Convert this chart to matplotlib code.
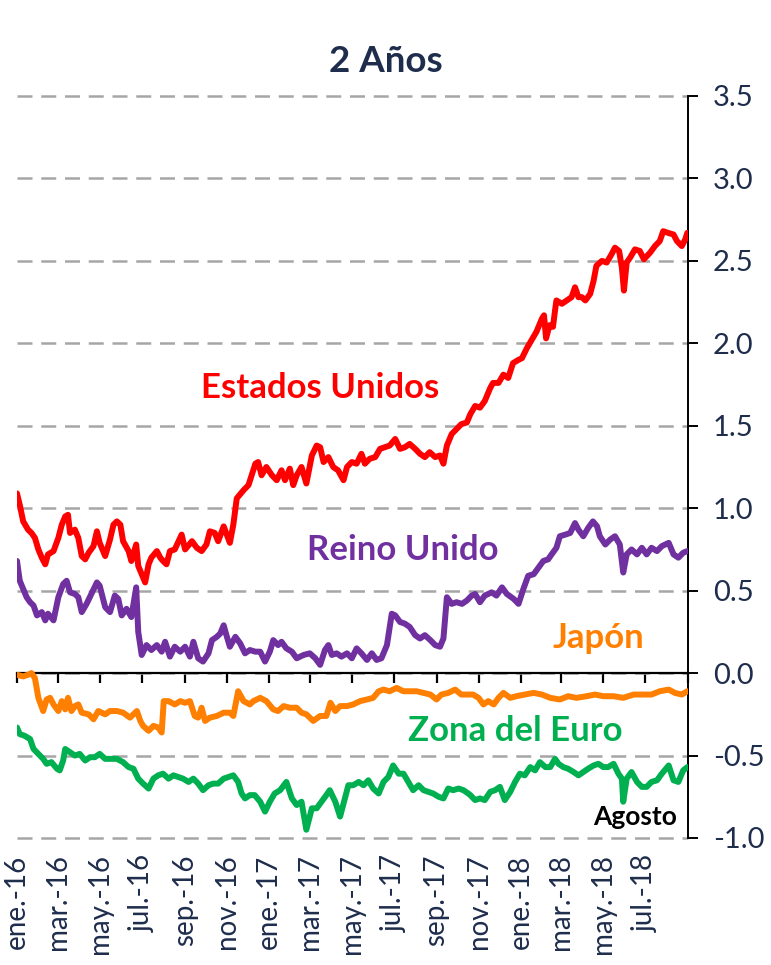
import numpy as np
import pandas as pd
import matplotlib
matplotlib.use('Agg')
import matplotlib.pyplot as plt

# dias contados desde el 1 de enero de 2016 y rendimiento a 2 años (%)
dias_eeuu = [0, 4, 9, 16, 21, 26, 31, 36, 41, 45, 53, 60, 65, 70, 74, 77, 84, 89, 94, 99,
             104, 111, 116, 120, 128, 135, 140, 145, 150, 154, 162, 166, 173, 176, 181, 186, 191, 195, 203, 208,
             212, 217, 222, 229, 239, 244, 254, 261, 268, 275, 280, 287, 292, 300, 309, 314, 319, 329, 336,
             346, 350, 355, 362, 370, 377, 384, 389, 396, 401, 406, 413, 420, 428, 435, 440, 445, 452, 459,
             466, 474, 479, 486, 493, 500, 505, 512, 520, 527, 534, 541, 549, 556, 563, 570, 578, 585, 592,
             599, 607, 614, 619, 624, 631, 638, 645, 653, 658, 665, 672, 679, 687, 691, 699, 706, 713, 720,
             728, 733, 740, 747, 754, 762, 765, 768, 773, 778, 781, 783, 791, 798, 805, 810, 815, 820, 825,
             832, 837, 841, 849, 856, 863, 868, 874, 878, 881, 885, 890, 897, 904, 910, 919, 926, 933, 938,
             945, 953, 958, 965, 970, 973]
eeuu = [1.09, 1.02, 0.92, 0.87, 0.85, 0.82, 0.75, 0.70, 0.66, 0.72, 0.74, 0.82, 0.90, 0.95, 0.96, 0.85, 0.87, 0.82, 0.71, 0.69,
        0.73, 0.77, 0.86, 0.79, 0.71, 0.81, 0.90, 0.92, 0.90, 0.80, 0.74, 0.68, 0.78, 0.65, 0.60, 0.55, 0.66, 0.70, 0.74, 0.70,
        0.68, 0.66, 0.74, 0.75, 0.84, 0.75, 0.80, 0.76, 0.74, 0.78, 0.86, 0.85, 0.80, 0.89, 0.79, 0.90, 1.06, 1.11, 1.14,
        1.27, 1.28, 1.20, 1.25, 1.20, 1.17, 1.23, 1.17, 1.24, 1.14, 1.20, 1.25, 1.15, 1.32, 1.38, 1.37, 1.28, 1.31, 1.25,
        1.23, 1.17, 1.25, 1.28, 1.27, 1.33, 1.27, 1.30, 1.31, 1.36, 1.37, 1.38, 1.42, 1.36, 1.37, 1.39, 1.36, 1.33, 1.31,
        1.34, 1.31, 1.32, 1.27, 1.38, 1.45, 1.48, 1.51, 1.52, 1.57, 1.62, 1.61, 1.65, 1.73, 1.76, 1.76, 1.81, 1.79, 1.88,
        1.90, 1.91, 1.97, 2.02, 2.07, 2.15, 2.17, 2.03, 2.11, 2.10, 2.20, 2.26, 2.24, 2.26, 2.28, 2.34, 2.28, 2.28, 2.26,
        2.30, 2.38, 2.47, 2.50, 2.49, 2.54, 2.58, 2.56, 2.46, 2.32, 2.49, 2.52, 2.57, 2.56, 2.51, 2.55, 2.59, 2.62, 2.68,
        2.67, 2.66, 2.62, 2.59, 2.63, 2.67]

dias_ru = [0, 4, 9, 14, 19, 24, 29, 36, 41, 45, 53, 60, 67, 72, 77, 84, 89, 94, 101, 108,
           116, 120, 128, 135, 142, 147, 152, 159, 166, 173, 176, 181, 188, 195, 203, 210, 215, 222, 229, 237,
           244, 251, 256, 263, 270, 278, 283, 290, 295, 300, 304, 309, 317, 324, 331, 338,
           346, 353, 360, 367, 372, 379, 384, 391, 399, 406, 416, 425, 433, 440, 447, 452, 457, 464, 471,
           479, 486, 493, 500, 508, 515, 522, 529, 537, 544, 549, 556, 563, 570, 578, 585, 592, 600, 607,
           614, 619, 624, 631, 638, 646, 653, 660, 665, 672, 679, 689, 696, 704, 711, 721, 728, 735, 742,
           750, 757, 764, 771, 776, 783, 788, 796, 803, 810, 815, 822, 829, 836, 842, 846, 854, 861, 868,
           875, 880, 885, 892, 900, 907, 914, 921, 929, 936, 946, 953, 960, 967, 973]
reino_unido = [0.68, 0.56, 0.51, 0.46, 0.43, 0.41, 0.35, 0.37, 0.32, 0.36, 0.32, 0.46, 0.54, 0.56, 0.49, 0.48, 0.46, 0.37, 0.42, 0.48,
               0.55, 0.53, 0.40, 0.37, 0.47, 0.45, 0.35, 0.39, 0.34, 0.52, 0.25, 0.11, 0.17, 0.14, 0.17, 0.13, 0.19, 0.10, 0.16, 0.13,
               0.16, 0.10, 0.19, 0.09, 0.07, 0.12, 0.20, 0.22, 0.24, 0.29, 0.23, 0.16, 0.22, 0.18, 0.12, 0.14,
               0.13, 0.13, 0.07, 0.13, 0.20, 0.17, 0.19, 0.15, 0.13, 0.09, 0.11, 0.12, 0.09, 0.05, 0.14, 0.17, 0.11, 0.12, 0.10,
               0.12, 0.09, 0.15, 0.12, 0.08, 0.12, 0.08, 0.09, 0.17, 0.36, 0.35, 0.31, 0.30, 0.28, 0.23, 0.21, 0.23, 0.20, 0.17,
               0.16, 0.21, 0.46, 0.42, 0.43, 0.42, 0.44, 0.47, 0.48, 0.43, 0.47, 0.49, 0.47, 0.52, 0.48, 0.45, 0.42, 0.51, 0.59,
               0.60, 0.64, 0.68, 0.69, 0.72, 0.76, 0.83, 0.84, 0.85, 0.91, 0.87, 0.83, 0.88, 0.92, 0.89, 0.83, 0.78, 0.81, 0.83,
               0.78, 0.61, 0.72, 0.75, 0.72, 0.76, 0.72, 0.76, 0.74, 0.77, 0.79, 0.72, 0.70, 0.73, 0.74]

dias_japon = [0, 9, 16, 21, 26, 31, 38, 43, 48, 53, 60, 65, 70, 74, 79, 84, 89, 94, 104, 111,
              118, 128, 135, 145, 154, 164, 174, 179, 183, 191, 198, 205, 210, 213, 220, 229, 237, 244, 251, 258,
              263, 268, 273, 280, 290, 300, 309, 314, 321, 329, 338,
              343, 353, 362, 372, 379, 387, 396, 406, 413, 420, 430, 440, 449, 455, 462, 469, 479, 488, 498,
              508, 517, 525, 532, 541, 551, 561, 570, 580, 590, 600, 609, 616, 626, 636, 645, 655,
              662, 670, 677, 684, 692, 699, 706, 716, 725, 737, 750, 762, 774, 788, 800, 812, 827, 839, 851,
              866, 880, 895, 909, 921, 933, 946, 955, 965, 973]
japon = [-0.01, -0.02, -0.01, 0.00, -0.03, -0.15, -0.23, -0.16, -0.15, -0.19, -0.23, -0.17, -0.22, -0.15, -0.23, -0.20, -0.19, -0.24, -0.25, -0.28,
         -0.23, -0.25, -0.23, -0.23, -0.24, -0.27, -0.23, -0.29, -0.32, -0.35, -0.32, -0.33, -0.36, -0.17, -0.17, -0.19, -0.17, -0.18, -0.17, -0.26,
         -0.27, -0.21, -0.29, -0.27, -0.26, -0.24, -0.24, -0.26, -0.11, -0.17, -0.19,
         -0.17, -0.15, -0.17, -0.22, -0.23, -0.20, -0.21, -0.21, -0.24, -0.25, -0.29, -0.26, -0.26, -0.18, -0.23, -0.20, -0.20, -0.19, -0.17,
         -0.16, -0.15, -0.11, -0.10, -0.11, -0.09, -0.11, -0.11, -0.11, -0.12, -0.13, -0.16, -0.13, -0.12, -0.10, -0.13, -0.13,
         -0.13, -0.15, -0.19, -0.17, -0.19, -0.15, -0.12, -0.15, -0.14, -0.13, -0.12, -0.13, -0.15, -0.16, -0.14, -0.15, -0.14, -0.13, -0.14,
         -0.14, -0.15, -0.13, -0.13, -0.13, -0.11, -0.10, -0.12, -0.13, -0.11]

dias_euro = [0, 4, 11, 19, 24, 31, 38, 43, 50, 58, 62, 67, 70, 77, 84, 91, 99, 106, 113, 120,
             128, 135, 145, 154, 162, 169, 176, 183, 191, 198, 205, 212, 220, 227, 234, 241, 249, 256, 263, 270,
             278, 285, 292, 300, 307, 314, 321, 326, 331, 338,
             345, 353, 360, 367, 374, 382, 391, 399, 406, 413, 420, 428, 435, 442, 449, 454, 462, 469, 476,
             481, 488, 496, 503, 510, 517, 525, 532, 539, 546, 554, 561, 568, 575, 583, 590, 597, 604, 612,
             619, 626, 633, 641, 648, 655, 658, 665, 672, 679, 687, 694, 701, 708, 716, 723, 730, 737, 745,
             752, 759, 767, 774, 781, 786, 793, 800, 808, 815, 822, 829, 837, 844, 851, 858, 866, 873, 878,
             880, 885, 892, 900, 907, 914, 921, 929, 936, 946, 953, 960, 967, 973]
zona_euro = [-0.33, -0.37, -0.38, -0.40, -0.46, -0.49, -0.52, -0.55, -0.54, -0.58, -0.59, -0.53, -0.46, -0.48, -0.50, -0.49, -0.53, -0.51, -0.51, -0.49,
             -0.52, -0.52, -0.52, -0.54, -0.57, -0.58, -0.64, -0.67, -0.70, -0.64, -0.62, -0.61, -0.64, -0.62, -0.63, -0.64, -0.66, -0.64, -0.67, -0.71,
             -0.68, -0.67, -0.67, -0.64, -0.63, -0.62, -0.66, -0.73, -0.76, -0.74,
             -0.74, -0.78, -0.84, -0.78, -0.73, -0.71, -0.66, -0.76, -0.80, -0.78, -0.95, -0.82, -0.82, -0.78, -0.74, -0.71, -0.78, -0.87, -0.76,
             -0.68, -0.68, -0.66, -0.68, -0.65, -0.70, -0.73, -0.66, -0.63, -0.56, -0.61, -0.61, -0.66, -0.71, -0.68, -0.71, -0.72, -0.73, -0.75,
             -0.76, -0.70, -0.71, -0.70, -0.71, -0.73, -0.74, -0.77, -0.76, -0.77, -0.72, -0.71, -0.69, -0.77, -0.72, -0.66, -0.61, -0.62, -0.57,
             -0.59, -0.54, -0.57, -0.57, -0.52, -0.55, -0.57, -0.58, -0.60, -0.62, -0.60, -0.58, -0.56, -0.55, -0.57, -0.57, -0.55, -0.61, -0.64,
             -0.78, -0.64, -0.60, -0.66, -0.69, -0.69, -0.66, -0.65, -0.61, -0.56, -0.65, -0.66, -0.59, -0.57]

etiquetas_x = ['ene.-16', 'mar.-16', 'may.-16', 'jul.-16', 'sep.-16', 'nov.-16',
               'ene.-17', 'mar.-17', 'may.-17', 'jul.-17', 'sep.-17', 'nov.-17',
               'ene.-18', 'mar.-18', 'may.-18', 'jul.-18']

inicio = np.datetime64('2016-01-01')
azul = '#1F2D4D'

plt.rcParams['font.family'] = ['Lato', 'DejaVu Sans']
plt.rcParams['axes.unicode_minus'] = False

fig = plt.figure(figsize=(7.71, 9.65), dpi=100)
ax = fig.add_axes([17/771, 127/965, 671/771, 742/965])

series = [(dias_eeuu, eeuu, '#FF0000'),
          (dias_ru, reino_unido, '#7030A0'),
          (dias_japon, japon, '#FF7F00'),
          (dias_euro, zona_euro, '#00B050')]
for dias, valores, color in series:
    ax.plot(inicio + np.array(dias), valores, color=color, lw=4.3, zorder=3,
            solid_joinstyle='round', solid_capstyle='round')

# ejes
ax.set_xlim(inicio, np.datetime64('2018-09-01'))
ax.set_ylim(-1.0, 3.5)
ax.set_yticks(np.arange(-1.0, 3.51, 0.5))
ax.yaxis.set_major_formatter(matplotlib.ticker.FormatStrFormatter('%.1f'))
ax.yaxis.tick_right()
ax.tick_params(axis='y', direction='out', length=7, width=1.4, pad=11,
               labelsize=21, labelcolor=azul)

ax.spines['left'].set_visible(False)
ax.spines['top'].set_visible(False)
ax.spines['right'].set_linewidth(1.4)
ax.spines['bottom'].set_position(('data', 0))
ax.spines['bottom'].set_linewidth(1.6)

fechas_ticks = pd.date_range('2016-01-01', '2018-09-01', freq='2MS')
ax.set_xticks(fechas_ticks)
ax.tick_params(axis='x', direction='out', length=7, width=1.6, labelbottom=False)

# etiquetas del eje x abajo del grafico
trans = ax.get_xaxis_transform()
for f, lab in zip(fechas_ticks, etiquetas_x):
    ax.text(f, -0.022, lab, transform=trans, rotation=90, ha='center', va='top',
            fontsize=20, color=azul)

# rejilla punteada
ax.yaxis.grid(True, color='#A6A6A6', lw=1.8, linestyle=(0, (6, 3.5)))
ax.set_axisbelow(True)
for gl in ax.get_ygridlines():
    gl.set_clip_on(False)

ax.text(0.550, 1.046, '2 Años', transform=ax.transAxes, ha='center', va='center',
        fontsize=26.5, fontweight='bold', color=azul)
ax.text(0.452, 0.606, 'Estados Unidos', transform=ax.transAxes, ha='center', va='center',
        fontsize=25, fontweight='bold', color='#FF0000')
ax.text(0.575, 0.388, 'Reino Unido', transform=ax.transAxes, ha='center', va='center',
        fontsize=25, fontweight='bold', color='#7030A0')
ax.text(0.866, 0.270, 'Japón', transform=ax.transAxes, ha='center', va='center',
        fontsize=25, fontweight='bold', color='#FF7F00')
ax.text(0.742, 0.144, 'Zona del Euro', transform=ax.transAxes, ha='center', va='center',
        fontsize=25, fontweight='bold', color='#00B050')
ax.text(0.921, 0.028, 'Agosto', transform=ax.transAxes, ha='center', va='center',
        fontsize=19, fontweight='bold', color='black')

fig.savefig('out.png', dpi=100)
